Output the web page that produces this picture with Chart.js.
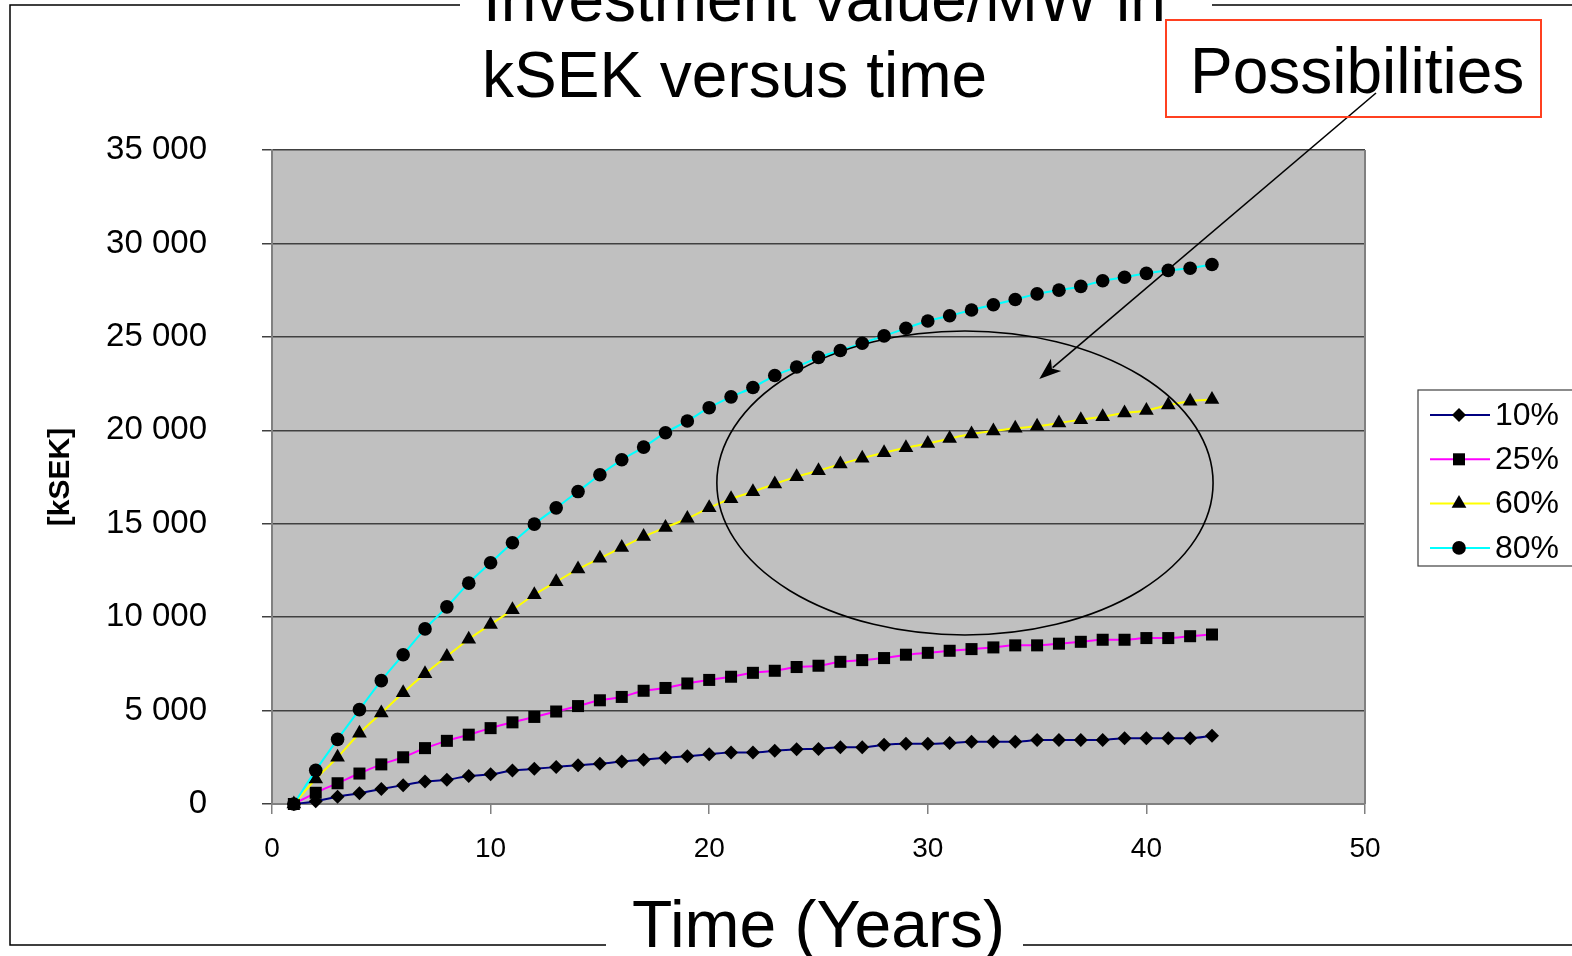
<!DOCTYPE html>
<html>
<head>
<meta charset="utf-8">
<title>Investment value/MW in kSEK versus time</title>
<script src="https://cdn.jsdelivr.net/npm/chart.js@4.4.1/dist/chart.umd.min.js"></script>
<style>
	html, body { margin: 0; padding: 0; background: #fff; }
	canvas { display: block; }
</style>
</head>
<body>
<canvas id="grafico" width="1572" height="956"></canvas>
<script>
// Anni (asse x)
const anni = [1, 2, 3, 4, 5, 6, 7, 8, 9, 10, 11, 12, 13, 14, 15, 16, 17, 18, 19, 20, 21, 22,
	23, 24, 25, 26, 27, 28, 29, 30, 31, 32, 33, 34, 35, 36, 37, 38, 39, 40, 41, 42, 43];

const nomiSerie = ['10%', '25%', '60%', '80%'];

// Valori in kSEK
const valori10 = [0, 150, 390, 580, 800, 1010, 1200, 1300, 1500, 1590, 1790, 1880, 1980, 2080, 2160,
	2270, 2370, 2470, 2560, 2660, 2760, 2760, 2850, 2930, 2950, 3040, 3040, 3170, 3220, 3220, 3260,
	3330, 3330, 3330, 3420, 3430, 3430, 3430, 3520, 3520, 3520, 3520, 3650];
const valori25 = [0, 600, 1110, 1630, 2120, 2500, 2990, 3380, 3710, 4060, 4370, 4660, 4950, 5240, 5550,
	5730, 6060, 6210, 6450, 6640, 6810, 7020, 7130, 7330, 7400, 7610, 7700, 7810, 7990, 8090, 8200,
	8290, 8380, 8490, 8490, 8580, 8680, 8790, 8790, 8880, 8880, 8980, 9070];
const valori60 = [0, 1340, 2500, 3790, 4870, 5960, 6970, 7900, 8820, 9610, 10390, 11200, 11890, 12570, 13150,
	13730, 14310, 14800, 15280, 15850, 16340, 16710, 17130, 17520, 17840, 18190, 18510, 18800, 19060, 19290, 19560,
	19800, 19960, 20110, 20210, 20390, 20570, 20730, 20920, 21060, 21350, 21560, 21650];
const valori80 = [0, 1800, 3460, 5050, 6600, 7990, 9370, 10550, 11820, 12910, 13980, 14980, 15850, 16720, 17620,
	18420, 19100, 19870, 20500, 21210, 21790, 22290, 22930, 23390, 23900, 24270, 24660, 25050, 25460, 25850, 26130,
	26440, 26720, 27000, 27300, 27500, 27700, 28000, 28190, 28400, 28560, 28670, 28870];

const ticksY = [0, 5000, 10000, 15000, 20000, 25000, 30000, 35000];
const ticksX = [0, 10, 20, 30, 40, 50];

const colori = ['#000080', '#ff00ff', '#ffff00', '#00ffff'];
const simboli = ['rectRot', 'rect', 'triangle', 'circle'];
const raggi = [7, 8.5, 8.5, 6.8];

const FONT = 'Arial, "Liberation Sans", sans-serif';

function formatta(v) {
	return String(v).replace(/\B(?=(\d{3})+(?!\d))/g, ' ');
}

let serie = [valori10, valori25, valori60, valori80];

let datasets = serie.map((valori, i) => ({
	label: nomiSerie[i],
	data: valori.map((v, j) => ({ x: anni[j], y: v })),
	borderColor: colori[i],
	borderWidth: 2,
	cubicInterpolationMode: 'monotone',
	pointStyle: simboli[i],
	pointRadius: raggi[i],
	pointBackgroundColor: '#000',
	pointBorderColor: '#000',
	pointBorderWidth: 0,
	clip: false,
	order: 4 - i,
}));

// Disegni extra: sfondo, ellisse, freccia, titolo, riquadro, legenda
const decorazioni = {
	id: 'decorazioni',
	beforeDraw(chart) {
		let { ctx, chartArea: a } = chart;
		ctx.save();
		ctx.fillStyle = '#fff';
		ctx.fillRect(0, 0, chart.width, chart.height);
		ctx.fillStyle = '#c0c0c0';
		ctx.fillRect(a.left, a.top, a.right - a.left, a.bottom - a.top);
		ctx.restore();
	},
	afterDatasetsDraw(chart) {
		let { ctx, scales: { x, y } } = chart;
		ctx.save();
		// ellisse "possibilities" (in unità dei dati)
		let cx = x.getPixelForValue(31.7), cy = y.getPixelForValue(17180);
		let rx = x.getPixelForValue(31.7 + 11.35) - cx;
		let ry = cy - y.getPixelForValue(17180 + 8134);
		ctx.strokeStyle = '#000';
		ctx.lineWidth = 1.6;
		ctx.beginPath();
		ctx.ellipse(cx, cy, rx, ry, 0, 0, Math.PI * 2);
		ctx.stroke();

		// freccia dal riquadro verso l'ellisse
		let x0 = 1376, y0 = 93;
		let x1 = x.getPixelForValue(35.1), y1 = y.getPixelForValue(22740);
		let ang = Math.atan2(y1 - y0, x1 - x0);
		let lung = 22, larg = 8;
		ctx.lineWidth = 1.6;
		ctx.beginPath();
		ctx.moveTo(x0, y0);
		ctx.lineTo(x1 - Math.cos(ang) * lung * 0.8, y1 - Math.sin(ang) * lung * 0.8);
		ctx.stroke();
		ctx.fillStyle = '#000';
		ctx.beginPath();
		ctx.moveTo(x1, y1);
		ctx.lineTo(x1 - Math.cos(ang) * lung + Math.sin(ang) * larg, y1 - Math.sin(ang) * lung - Math.cos(ang) * larg);
		ctx.lineTo(x1 - Math.cos(ang) * lung * 0.75, y1 - Math.sin(ang) * lung * 0.75);
		ctx.lineTo(x1 - Math.cos(ang) * lung - Math.sin(ang) * larg, y1 - Math.sin(ang) * lung + Math.cos(ang) * larg);
		ctx.closePath();
		ctx.fill();
		ctx.restore();
	},
	afterDraw(chart) {
		let { ctx, chartArea: a } = chart;
		ctx.save();

		// bordo destro dell'area del grafico
		ctx.strokeStyle = '#808080';
		ctx.lineWidth = 2;
		ctx.beginPath();
		ctx.moveTo(a.right, a.top);
		ctx.lineTo(a.right, a.bottom);
		ctx.stroke();

		// cornice della diapositiva
		ctx.strokeStyle = '#000';
		ctx.lineWidth = 1.5;
		ctx.beginPath();
		ctx.moveTo(460, 5); ctx.lineTo(10, 5); ctx.lineTo(10, 945); ctx.lineTo(606, 945);
		ctx.moveTo(1212, 5); ctx.lineTo(1572, 5);
		ctx.moveTo(1023, 945); ctx.lineTo(1572, 945);
		ctx.stroke();

		// titolo
		ctx.fillStyle = '#000';
		ctx.textBaseline = 'alphabetic';
		ctx.textAlign = 'left';
		ctx.font = `64px ${FONT}`;
		ctx.fillText('Investment value/MW in', 483, 21);
		ctx.fillText('kSEK versus time', 482, 97);

		// riquadro "Possibilities"
		ctx.strokeStyle = '#ff4020';
		ctx.lineWidth = 2;
		ctx.strokeRect(1166, 20, 375, 97);
		ctx.fillText('Possibilities', 1190, 93);

		// legenda
		ctx.strokeStyle = '#404040';
		ctx.lineWidth = 1.2;
		ctx.strokeRect(1418, 390, 170, 176);
		ctx.font = `32px ${FONT}`;
		ctx.textBaseline = 'middle';
		chart.data.datasets.forEach((ds, i) => {
			let yy = 415 + i * 44.3;
			ctx.strokeStyle = ds.borderColor;
			ctx.lineWidth = 2;
			ctx.beginPath();
			ctx.moveTo(1430, yy);
			ctx.lineTo(1490, yy);
			ctx.stroke();
			ctx.fillStyle = '#000';
			Chart.helpers.drawPoint(ctx, { pointStyle: ds.pointStyle, radius: ds.pointRadius, borderWidth: 0, rotation: 0 }, 1459, yy);
			ctx.fillText(ds.label, 1495, yy + 1);
		});
		ctx.restore();
	}
};

new Chart(document.getElementById('grafico'), {
	type: 'line',
	data: { datasets },
	plugins: [decorazioni],
	options: {
		responsive: false,
		animation: false,
		layout: { padding: { left: 0, top: 150, right: 207, bottom: 0 } },
		plugins: {
			legend: { display: false },
			tooltip: { enabled: false },
		},
		scales: {
			x: {
				type: 'linear',
				min: 0,
				max: 50,
				afterBuildTicks: scale => { scale.ticks = ticksX.map(v => ({ value: v })); },
				afterFit: scale => { scale.height = 152; },
				ticks: {
					font: { family: FONT, size: 28 },
					color: '#000',
					padding: 18,
					maxRotation: 0,
				},
				grid: {
					drawOnChartArea: false,
					drawTicks: true,
					tickLength: 10,
					color: '#808080',
					lineWidth: 1.5,
				},
				border: { display: true, color: '#808080', width: 2 },
				title: {
					display: true,
					text: 'Time (Years)',
					font: { family: FONT, size: 66, lineHeight: 1 },
					color: '#000',
					padding: { top: 0, bottom: -6 },
				},
			},
			y: {
				min: 0,
				max: 35000,
				afterBuildTicks: scale => { scale.ticks = ticksY.map(v => ({ value: v })); },
				afterFit: scale => { scale.width = 272; },
				ticks: {
					font: { family: FONT, size: 33 },
					color: '#000',
					padding: 55,
					callback: v => formatta(v),
				},
				grid: {
					color: '#404040',
					lineWidth: 1.5,
					drawTicks: true,
					tickLength: 10,
				},
				border: { display: true, color: '#808080', width: 2 },
				title: {
					display: true,
					text: '[kSEK]',
					font: { family: FONT, size: 30, weight: 'bold', lineHeight: 1.2 },
					color: '#000',
					padding: { top: 43, bottom: 0 },
				},
			},
		},
	},
});
</script>
</body>
</html>
